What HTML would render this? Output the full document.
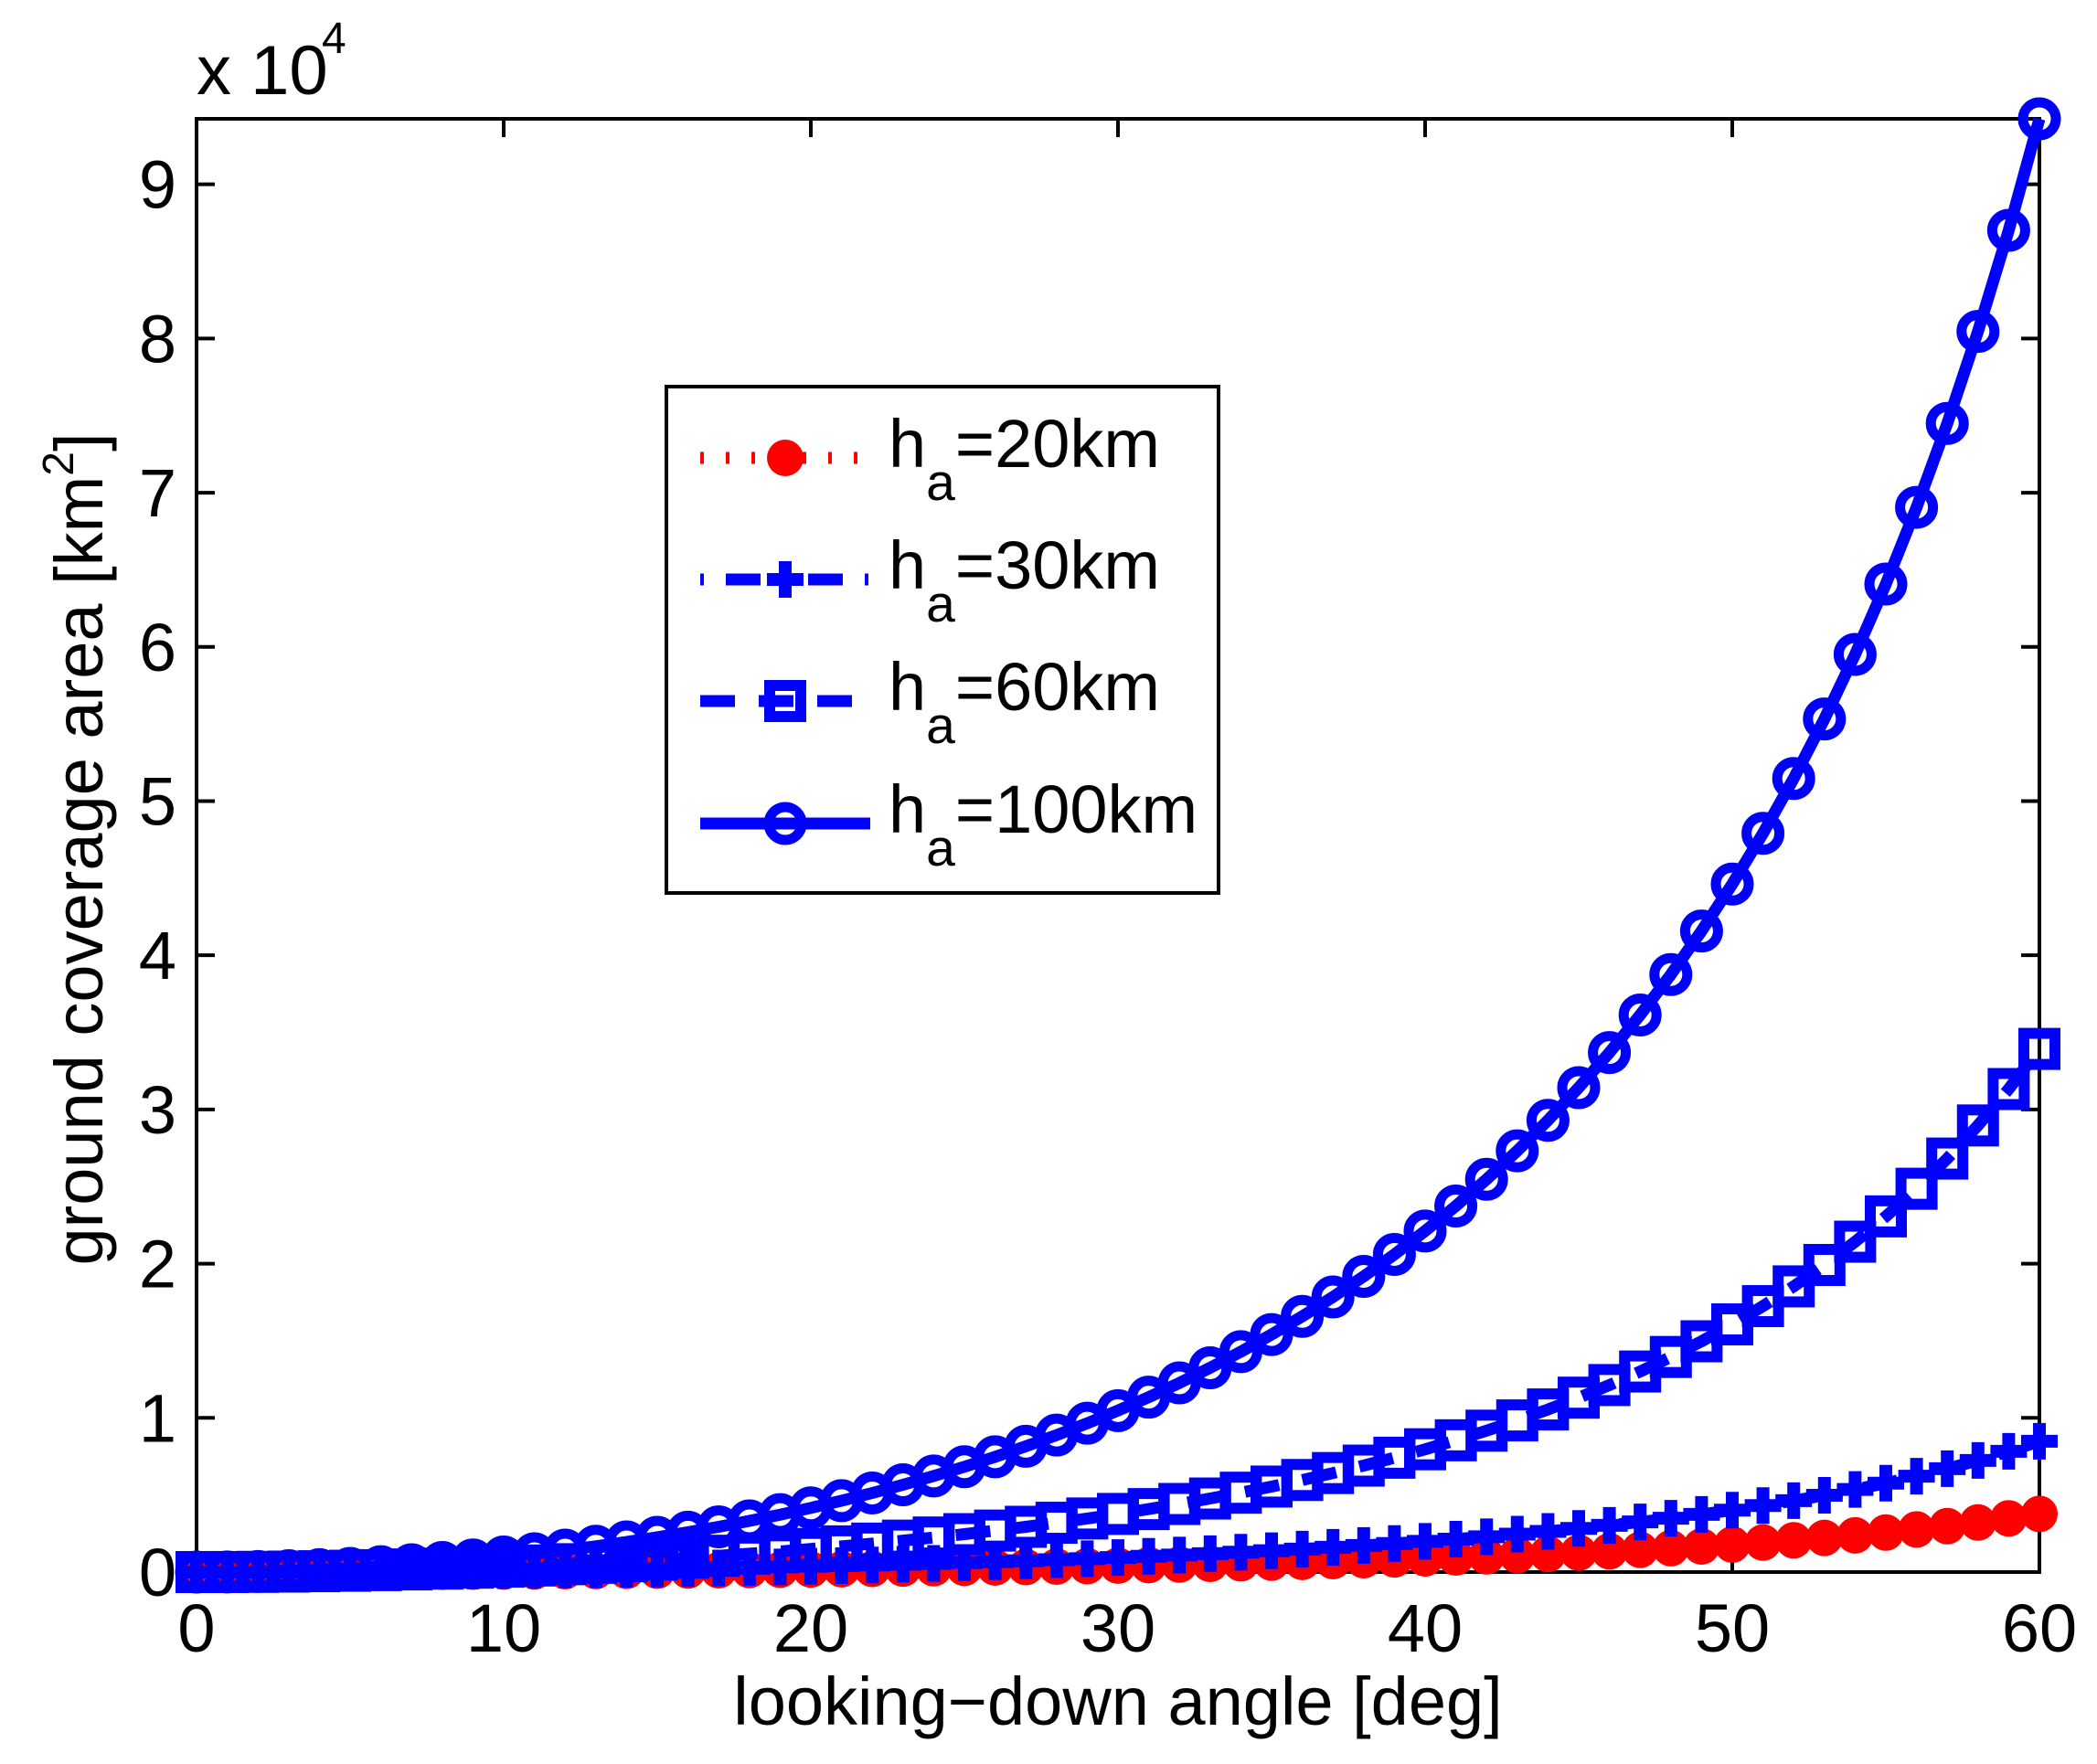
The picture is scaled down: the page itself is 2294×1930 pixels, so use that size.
<!DOCTYPE html>
<html><head><meta charset="utf-8"><style>
html,body{margin:0;padding:0;background:#fff}
svg{display:block}
text{font-family:"Liberation Sans",Arial,sans-serif;fill:#000}
</style></head><body>
<svg id="chart" width="2294" height="1930" viewBox="0 0 2294 1930" xmlns="http://www.w3.org/2000/svg">
<rect x="215" y="130" width="2016" height="1590" fill="#fff"/>
<g id="axes"></g>
<g id="series"></g>
<text x="215" y="103" font-size="76">x 10</text>
<text x="352" y="58" font-size="48">4</text>
<text x="1223" y="1887" font-size="74" text-anchor="middle">looking−down angle [deg]</text>
<text transform="translate(112,929) rotate(-90)" font-size="74" text-anchor="middle">ground coverage area [km<tspan font-size="48" dy="-32">2</tspan><tspan dy="32">]</tspan></text>
<g id="legend">
<rect x="729" y="423" width="604" height="554" fill="#fff" stroke="#000" stroke-width="4"/>
</g>
</svg>
<script>
const angles = [];
for (let i = 0; i <= 60; i++) angles.push(i);
const area20 = [0,0,.0002,.0003,.0006,.0010,.0014,.0019,.0025,.0032,.0039,.0047,.0057,.0067,.0078,.0090,.0103,.0117,.0133,.0149,.0166,.0185,.0205,.0226,.0249,.0273,.0299,.0326,.0355,.0386,.0419,.0454,.0491,.0530,.0572,.0616,.0663,.0714,.0767,.0824,.0885,.0950,.1019,.1093,.1172,.1257,.1348,.1445,.1550,.1663,.1785,.1916,.2059,.2213,.2381,.2563,.2762,.2980,.3218,.3481,.3770];
const area30 = [0,.0001,.0003,.0008,.0014,.0022,.0031,.0043,.0056,.0071,.0088,.0107,.0128,.0151,.0176,.0203,.0232,.0264,.0299,.0335,.0375,.0417,.0462,.0509,.0561,.0615,.0673,.0734,.0799,.0869,.0942,.1021,.1104,.1192,.1286,.1386,.1492,.1606,.1726,.1854,.1991,.2137,.2292,.2459,.2637,.2827,.3032,.3251,.3487,.3742,.4016,.4312,.4632,.4979,.5356,.5767,.6215,.6704,.7241,.7832,.8482];
const area60 = [0,.0003,.0014,.0031,.0055,.0086,.0125,.0171,.0224,.0284,.0352,.0427,.0511,.0603,.0703,.0812,.0930,.1057,.1194,.1341,.1498,.1666,.1846,.2038,.2242,.2459,.2690,.2936,.3198,.3475,.3770,.4083,.4416,.4770,.5145,.5545,.5970,.6422,.6903,.7416,.7963,.8546,.9169,.9835,1.0547,1.1310,1.2128,1.3006,1.3950,1.4967,1.6063,1.7247,1.8528,1.9917,2.1425,2.3067,2.4859,2.6817,2.8965,3.1326,3.3929];
const area100 = [0,.0010,.0038,.0086,.0154,.0240,.0347,.0474,.0621,.0788,.0977,.1187,.1419,.1674,.1953,.2256,.2583,.2936,.3317,.3725,.4162,.4629,.5128,.5660,.6228,.6831,.7473,.8156,.8882,.9653,1.0472,1.1342,1.2267,1.3249,1.4293,1.5403,1.6583,1.7839,1.9176,2.0601,2.2120,2.3740,2.5470,2.7319,2.9297,3.1416,3.3688,3.6128,3.8750,4.1574,4.4619,4.7909,5.1467,5.5325,5.9515,6.4076,6.9052,7.4493,8.0459,8.7017,9.4248];
const xTicks = [0,10,20,30,40,50,60];
const yTicks = [0,1,2,3,4,5,6,7,8,9];
const legendLabels = ["20km","30km","60km","100km"];

const NS = "http://www.w3.org/2000/svg";
const X0 = 215, X1 = 2231, Y0 = 1720, Y1 = 130;
const xMin = 0, xMax = 60, yMin = 0, yMax = 9.4248;
function xs(v){ return X0 + (v - xMin) / (xMax - xMin) * (X1 - X0); }
function ys(v){ return Y0 - (v - yMin) / (yMax - yMin) * (Y0 - Y1); }
function mk(tag, attrs, parent){
  const e = document.createElementNS(NS, tag);
  for (const k in attrs) e.setAttribute(k, attrs[k]);
  parent.appendChild(e); return e;
}
const BLUE = "#0000ff", RED = "#ff0000";
const styles = [
  {data: area20, color: RED, dash: "4,24", marker: "dot", name: "h20"},
  {data: area30, color: BLUE, dash: "4,24,38,24", marker: "plus", name: "h30"},
  {data: area60, color: BLUE, dash: "38,26", marker: "square", name: "h60"},
  {data: area100, color: BLUE, dash: "none", marker: "circle", name: "h100"}
];
function drawMarker(type, cx, cy, color, parent){
  let m;
  if (type === "dot") {
    m = mk("circle", {cx: cx, cy: cy, r: 20, fill: color}, parent);
  } else if (type === "plus") {
    m = mk("path", {d: `M${cx-20},${cy}H${cx+20}M${cx},${cy-20}V${cy+20}`, stroke: color, "stroke-width": 14, fill: "none"}, parent);
  } else if (type === "square") {
    m = mk("rect", {x: cx-17, y: cy-17, width: 34, height: 34, stroke: color, "stroke-width": 12, fill: "none"}, parent);
  } else {
    m = mk("circle", {cx: cx, cy: cy, r: 18, stroke: color, "stroke-width": 11, fill: "none"}, parent);
  }
  return m;
}
const ag = document.getElementById("axes");
const frame = mk("rect", {x: X0, y: Y1, width: X1 - X0, height: Y0 - Y1, fill: "none", stroke: "#000", "stroke-width": 4}, ag);


xTicks.forEach(t => {
  const x = xs(t);
  const tk = mk("path", {d: `M${x},${Y0}V${Y0-20}M${x},${Y1}V${Y1+20}`, stroke: "#000", "stroke-width": 4}, ag);
  
  
  const lb = mk("text", {x: x, y: 1807, "font-size": 74, "text-anchor": "middle"}, ag);
  lb.textContent = t;
  
  
});
yTicks.forEach(t => {
  const y = ys(t);
  const tk = mk("path", {d: `M${X0},${y}H${X0+20}M${X1},${y}H${X1-20}`, stroke: "#000", "stroke-width": 4}, ag);
  
  
  const lb = mk("text", {x: 193, y: y + 26, "font-size": 74, "text-anchor": "end"}, ag);
  lb.textContent = t;
  
  
});
const sg = document.getElementById("series");
styles.forEach(s => {
  const g = mk("g", {}, sg);
  
  
  const pts = s.data.map((v, i) => xs(angles[i]).toFixed(1) + "," + ys(v).toFixed(1)).join(" ");
  const line = mk("polyline", {points: pts, fill: "none", stroke: s.color, "stroke-width": 13, "stroke-dasharray": s.dash, "stroke-linejoin": "round"}, g);
  
  
  s.data.forEach((v, i) => {
    const m = drawMarker(s.marker, xs(angles[i]), ys(v), s.color, g);
    
    
  });
});
const lg = document.getElementById("legend");
const rowsY = [501, 634, 767, 901];
styles.forEach((s, i) => {
  const y = rowsY[i];
  const e = mk("g", {}, lg);
  
  
  mk("line", {x1: 766, y1: y, x2: 952, y2: y, stroke: s.color, "stroke-width": 13, "stroke-dasharray": s.dash}, e);
  drawMarker(s.marker, 859, y, s.color, e);
  const t = mk("text", {x: 972, y: y + 10, "font-size": 74}, e);
  t.innerHTML = 'h<tspan font-size="57" dy="36">a</tspan><tspan dy="-36">=' + legendLabels[i] + '</tspan>';
});
</script>
</body></html>
